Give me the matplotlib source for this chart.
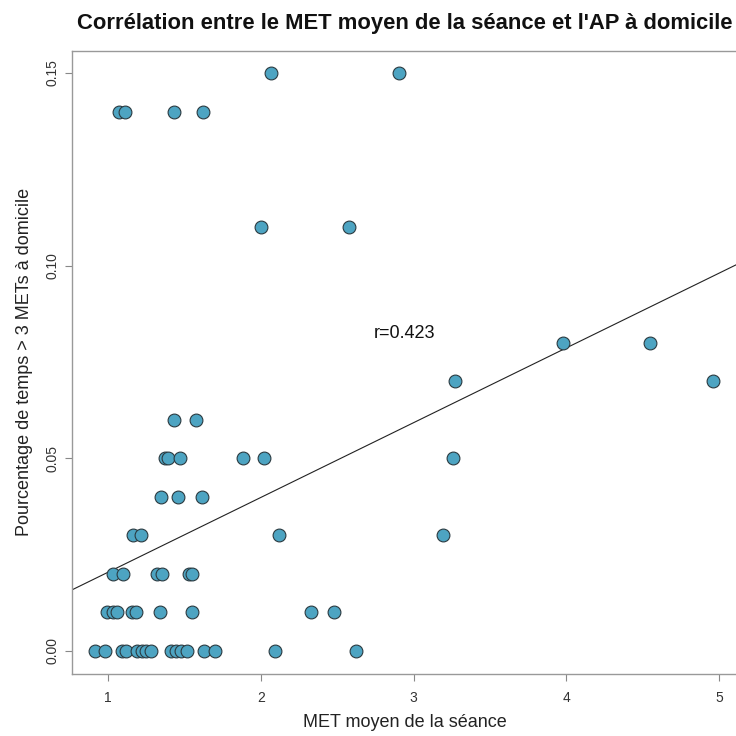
import matplotlib
matplotlib.use("Agg")
import matplotlib.pyplot as plt
import numpy as np

plt.rcParams['font.family'] = ['Liberation Sans', 'DejaVu Sans']

# Data
met_moyen = [
    # y = 0.00
    0.915, 0.98, 1.09, 1.12, 1.19, 1.22, 1.25, 1.28, 1.41, 1.445, 1.48, 1.52, 1.63, 1.70, 2.09, 2.62,
    # y = 0.01
    0.99, 1.03, 1.06, 1.16, 1.18, 1.34, 1.55, 2.33, 2.48,
    # y = 0.02
    1.033, 1.098, 1.32, 1.353, 1.53, 1.55,
    # y = 0.03
    1.165, 1.216, 2.12, 3.19,
    # y = 0.04
    1.347, 1.46, 1.617,
    # y = 0.05
    1.373, 1.395, 1.47, 1.885, 2.023, 3.26,
    # y = 0.06
    1.432, 1.576,
    # y = 0.07
    3.27, 4.96,
    # y = 0.08
    3.98, 4.55,
    # y = 0.11
    2.00, 2.58,
    # y = 0.14
    1.074, 1.111, 1.432, 1.62,
    # y = 0.15
    2.065, 2.905,
]
pct_temps = (
    [0.00] * 16 + [0.01] * 9 + [0.02] * 6 + [0.03] * 4 + [0.04] * 3 +
    [0.05] * 6 + [0.06] * 2 + [0.07] * 2 + [0.08] * 2 + [0.11] * 2 +
    [0.14] * 4 + [0.15] * 2
)
# regression line as drawn in the reference (intercept, slope)
reg_intercept = 0.00101
reg_slope = 0.01941
x_ticks = [1, 2, 3, 4, 5]
y_ticks = [0.00, 0.05, 0.10, 0.15]
r_label = "r=0.423"

x = np.array(met_moyen)
y = np.array(pct_temps)

fig = plt.figure(figsize=(7.36, 7.36), dpi=100)
W = H = 736
ax = fig.add_axes([72 / W, (H - 674) / H, (737 - 72) / W, (674 - 50.7) / H])

ax.scatter(x, y, s=85, facecolor='#4da4c2', edgecolor='#2b3a40', linewidths=0.8, zorder=3)

xl = np.array([0.0, 6.0])
ax.plot(xl, reg_intercept + reg_slope * xl, color='#222222', lw=0.8, zorder=2)

ax.text(2.94, 0.0824, r_label, ha='center', va='center', fontsize=13, color='#111111')

ax.set_xlim(0.764, 5.117)
ax.set_ylim(-0.006, 0.1558)
ax.set_xticks(x_ticks)
ax.set_xticklabels([str(t) for t in x_ticks])
ax.set_yticks(y_ticks)
ax.set_yticklabels([f"{t:.2f}" for t in y_ticks], rotation=90, va='center')

for s in ax.spines.values():
    s.set_color('#999999')
    s.set_linewidth(1.0)
ax.tick_params(axis='both', direction='out', length=5, width=0.8, color='#888888',
               labelsize=10, labelcolor='#333333')
ax.tick_params(axis='x', pad=7)
ax.tick_params(axis='y', pad=4)

ax.set_xlabel("MET moyen de la séance", fontsize=13, color='#222222', labelpad=7)
ax.set_ylabel("Pourcentage de temps > 3 METs à domicile", fontsize=13, color='#222222', labelpad=9)
fig.text(404.5 / W, 1 - 24 / H, "Corrélation entre le MET moyen de la séance et l'AP à domicile",
         ha='center', va='center', fontsize=15.8, fontweight='bold', color='#111111')

fig.savefig("out.png", dpi=100)
